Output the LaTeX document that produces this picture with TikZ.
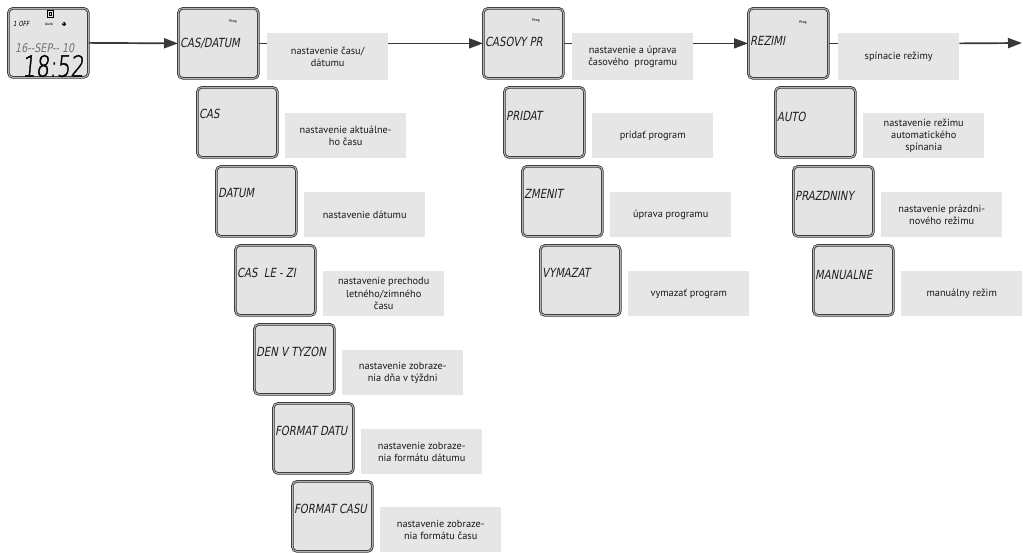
\documentclass[tikz,border=0pt]{standalone}
\usepackage{fontspec}
\setmainfont{PT Sans}
\newfontfamily\lcdfont[FakeSlant=0.18,FakeStretch=0.8]{DejaVu Sans}
\newfontfamily\lcdbigfont[FakeSlant=0.1,FakeStretch=0.74,FakeBold=1.2]{DejaVu Sans ExtraLight}
\usetikzlibrary{arrows.meta,calc}
\definecolor{lcdgray}{HTML}{E4E4E4}
\definecolor{labelgray}{HTML}{E6E6E6}
\definecolor{linegray}{HTML}{383838}
\begin{document}
\begin{tikzpicture}[x=1pt,y=-1pt,
  lcdbox/.style={draw=black!82, double=black!30, double distance=1pt, line width=0.75pt,
    rounded corners=4.5pt, fill=lcdgray, minimum width=80pt, minimum height=70pt,
    inner sep=0pt, anchor=north west},
  conn/.style={draw=linegray, line width=1.7pt},
  flow/.style={conn, -{Triangle[length=14pt,width=10pt]}},
  lbl/.style={fill=labelgray, minimum width=121pt, minimum height=45pt, inner sep=1pt,
    align=center, anchor=north west, text=black!90, font=\fontsize{10.3}{12.3}\selectfont},
  hlbl/.style={lbl, minimum height=47pt},
  lcdtxt/.style={anchor=west, inner sep=0pt, text=black!88,
    font=\lcdfont\fontsize{12.6}{13}\selectfont},
  progtxt/.style={inner sep=0pt, text=black!80, font=\fontsize{3.8}{4}\selectfont\bfseries}]
\useasboundingbox (0,0) rectangle (1023,552);

% ---- start display ----
\node[lcdbox, minimum height=69pt] (disp) at (8,8) {};
\node[anchor=west, inner sep=0pt, font=\lcdfont\fontsize{7}{7}\selectfont] (dOff) at (13,24) {1 OFF};
\node[progtxt, anchor=west] (dAuto) at (45,24) {Auto};
\draw[line width=0.5pt] (64,24) circle (1.8);
\draw[line width=0.4pt] (62,24) -- (66,24) (64,22) -- (64,26);
\draw[line width=0.8pt] (47.5,10) rectangle (53.5,17);
\draw[line width=0.5pt] (49.5,12) rectangle (51.5,15);
\node[anchor=west, inner sep=0pt, text=black!55, font=\lcdfont\fontsize{12}{12}\selectfont] (dDate) at (15,48) {16--SEP-- 10};
\node[inner sep=0pt, font=\lcdbigfont\fontsize{29}{30}\selectfont] (dTime) at (53,66) {18:52};

% ---- column 1: date and time ----
\node[lcdbox] (hdA) at (178,8) {};
\node[lcdtxt] (hdAt) at ($(hdA.north west)+(2,35)$) {CAS/DATUM};
\node[progtxt] (hdAp) at ($(hdA.north west)+(55,14)$) {Prog};
\node[hlbl] (hdAl) at (267,33) {nastavenie času/\\dátumu};

\node[lcdbox] (a1) at (197,87) {};
\node[lcdtxt] (a1t) at ($(a1.north west)+(2,27)$) {CAS};
\node[lbl] (a1l) at (285,113) {nastavenie aktuálne-\\ho času};

\node[lcdbox] (a2) at (216,166) {};
\node[lcdtxt] (a2t) at ($(a2.north west)+(2,27)$) {DATUM};
\node[lbl] (a2l) at (304,192) {nastavenie dátumu};

\node[lcdbox] (a3) at (235,245) {};
\node[lcdtxt] (a3t) at ($(a3.north west)+(2,28)$) {CAS\ \ LE - ZI};
\node[lbl] (a3l) at (323,271) {nastavenie prechodu\\letného/zimného\\času};

\node[lcdbox] (a4) at (254,324) {};
\node[lcdtxt] (a4t) at ($(a4.north west)+(2,28)$) {DEN V TYZON};
\node[lbl] (a4l) at (342,350) {nastavenie zobraze-\\nia dňa v týždni};

\node[lcdbox] (a5) at (273,403) {};
\node[lcdtxt] (a5t) at ($(a5.north west)+(2,28)$) {FORMAT DATU};
\node[lbl] (a5l) at (361,429) {nastavenie zobraze-\\nia formátu dátumu};

\node[lcdbox] (a6) at (292,481) {};
\node[lcdtxt] (a6t) at ($(a6.north west)+(2,28)$) {FORMAT CASU};
\node[lbl] (a6l) at (380,507) {nastavenie zobraze-\\nia formátu času};

% ---- column 2: time program ----
\node[lcdbox] (hdB) at (483,8) {};
\node[lcdtxt] (hdBt) at ($(hdB.north west)+(2,34)$) {CASOVY PR};
\node[progtxt] (hdBp) at ($(hdB.north west)+(53,13)$) {Prog};
\node[hlbl] (hdBl) at (572,33) {nastavenie a úprava\\časového\ \ programu};

\node[lcdbox] (b1) at (504,87) {};
\node[lcdtxt] (b1t) at ($(b1.north west)+(2,29)$) {PRIDAT};
\node[lbl] (b1l) at (592,113) {pridať program};

\node[lcdbox] (b2) at (522,166) {};
\node[lcdtxt] (b2t) at ($(b2.north west)+(2,28)$) {ZMENIT};
\node[lbl] (b2l) at (610,192) {úprava programu};

\node[lcdbox] (b3) at (540,245) {};
\node[lcdtxt] (b3t) at ($(b3.north west)+(2,28)$) {VYMAZAT};
\node[lbl] (b3l) at (628,271) {vymazať program};

% ---- column 3: switching modes ----
\node[lcdbox] (hdC) at (748,8) {};
\node[lcdtxt] (hdCt) at ($(hdC.north west)+(2,33)$) {REZIMI};
\node[progtxt] (hdCp) at ($(hdC.north west)+(55,15)$) {Prog};
\node[hlbl] (hdCl) at (838,33) {spínacie režimy};

\node[lcdbox] (c1) at (775,87) {};
\node[lcdtxt] (c1t) at ($(c1.north west)+(2,30)$) {AUTO};
\node[lbl] (c1l) at (863,113) {nastavenie režimu\\automatického\\spínania};

\node[lcdbox] (c2) at (793,166) {};
\node[lcdtxt] (c2t) at ($(c2.north west)+(2,30)$) {PRAZDNINY};
\node[lbl] (c2l) at (881,192) {nastavenie prázdni-\\nového režimu};

\node[lcdbox] (c3) at (813,245) {};
\node[lcdtxt] (c3t) at ($(c3.north west)+(2,30)$) {MANUALNE};
\node[lbl] (c3l) at (901,271) {manuálny režim};

% ---- main flow ----
\coordinate (out) at (1022,43);
\draw[flow] (disp.east) -- (hdA.west);
\draw[conn] (hdA.east) -- (hdA.east -| hdAl.west);
\draw[flow] (hdA.east -| hdAl.east) -- (hdB.west);
\draw[conn] (hdB.east) -- (hdB.east -| hdBl.west);
\draw[flow] (hdB.east -| hdBl.east) -- (hdC.west);
\draw[conn] (hdC.east) -- (hdC.east -| hdCl.west);
\draw[flow] (hdC.east -| hdCl.east) -- (out);
\end{tikzpicture}
\end{document}
